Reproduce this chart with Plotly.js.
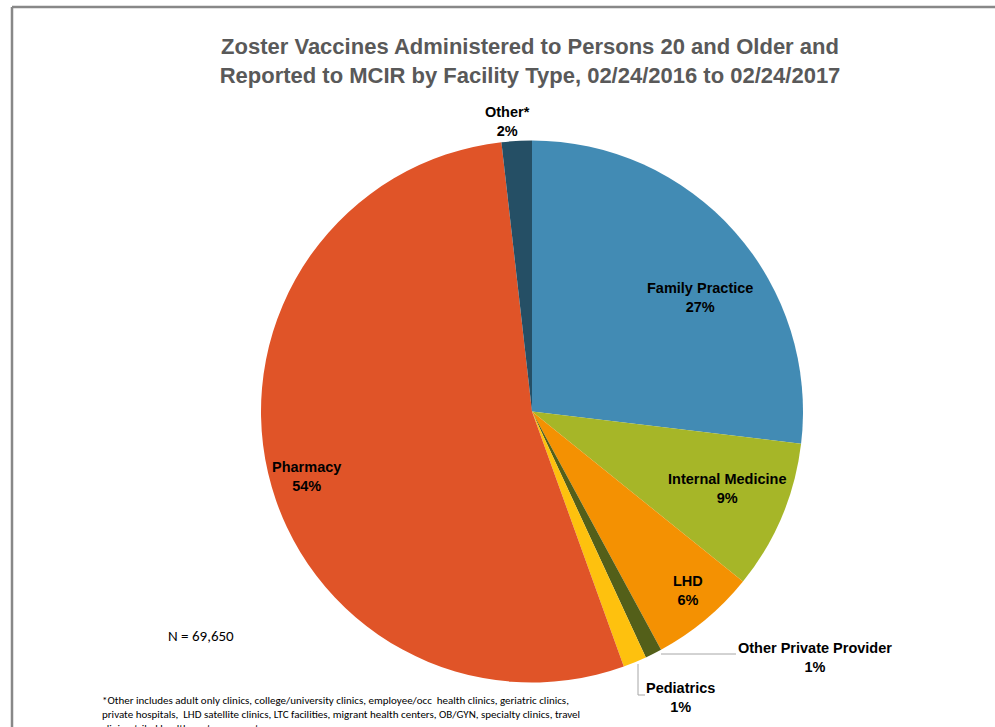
<!DOCTYPE html>
<html>
<head>
<meta charset="utf-8">
<script src="https://cdn.plot.ly/plotly-3.0.1.min.js"></script>
<style>html,body{margin:0;padding:0;background:#fff;overflow:hidden}#chart{width:995px;height:727px}</style>
</head>
<body>
<div id="chart"></div>
<script>
// Data (percent of N = 69,650)
const categories = ["Family Practice", "Internal Medicine", "LHD", "Other Private Provider", "Pediatrics", "Pharmacy", "Other*"];
const shares = [26.9, 8.9, 6.3, 1.0, 1.4, 53.7, 1.8];
const colors = ["#428BB4", "#A6B628", "#F49102", "#535F19", "#FEC10E", "#E05428", "#254F65"];
const titleText = "Zoster Vaccines Administered to Persons 20 and Older and<br>Reported to MCIR by Facility Type, 02/24/2016 to 02/24/2017";
const nText = "N = 69,650";
const footnote = ["*Other includes adult only clinics, college/university clinics, employee/occ  health clinics, geriatric clinics,",
  "private hospitals,  LHD satellite clinics, LTC facilities, migrant health centers, OB/GYN, specialty clinics, travel",
  "clinics, tribal health centers, urgent cares"];

const W = 995, H = 727;
const px = x => x / W, py = y => 1 - y / H;

// label anchor positions (pixels) for each category
const labelPos = [[700, 297], [727, 488], [688, 590], [815, 657], [680, 697], [306, 476], [508, 122]];

const annotations = categories.map((c, i) => ({
  text: "<b>" + c + "<br>" + Math.round(shares[i]) + "%</b>",
  x: px(labelPos[i][0]), y: py(labelPos[i][1]), xref: "paper", yref: "paper",
  showarrow: false, align: "center", xanchor: "center", yanchor: "middle",
  font: {family: "Liberation Sans, Arial, sans-serif", size: 14.5, color: "#000"}
}));
annotations.push({text: nText, x: px(166), y: py(636), xref: "paper", yref: "paper", showarrow: false,
  xanchor: "left", yanchor: "middle", font: {family: "Carlito, Open Sans, sans-serif", size: 15, color: "#000"}});
footnote.forEach((t, i) => annotations.push({text: t, x: px(100), y: py(700 + i * 14), xref: "paper", yref: "paper",
  showarrow: false, xanchor: "left", yanchor: "middle",
  font: {family: "Carlito, Open Sans, sans-serif", size: 11, color: "#000"}}));

const shapes = [
  {type: "line", xref: "paper", yref: "paper", x0: px(12), y0: py(7), x1: px(1000), y1: py(7), line: {color: "#888", width: 2.5}},
  {type: "line", xref: "paper", yref: "paper", x0: px(12), y0: py(7), x1: px(12), y1: py(740), line: {color: "#888", width: 2.5}},
  // leader lines
  {type: "line", xref: "paper", yref: "paper", x0: px(661), y0: py(654), x1: px(736), y1: py(654), line: {color: "#A6A6A6", width: 1}},
  {type: "path", xref: "paper", yref: "paper",
   path: "M " + px(638) + "," + py(664) + " L " + px(638) + "," + py(695) + " L " + px(645) + "," + py(695),
   line: {color: "#A6A6A6", width: 1}}
];

const trace = {
  type: "pie", labels: categories, values: shares, sort: false, direction: "clockwise", rotation: 0,
  marker: {colors: colors, line: {width: 0}}, textinfo: "none", hoverinfo: "label+percent",
  domain: {x: [px(261), px(803)], y: [py(683), py(140)]}, showlegend: false
};

const layout = {
  width: W, height: H, margin: {l: 0, r: 0, t: 0, b: 0}, paper_bgcolor: "#fff",
  title: {text: "<b>" + titleText + "</b>", x: px(530), xanchor: "center", y: py(54), yanchor: "middle",
    font: {family: "Liberation Sans, Arial, sans-serif", size: 22, color: "#595959"}},
  annotations: annotations, shapes: shapes, showlegend: false
};

Plotly.newPlot("chart", [trace], layout, {displayModeBar: false, staticPlot: true});
</script>
</body>
</html>
